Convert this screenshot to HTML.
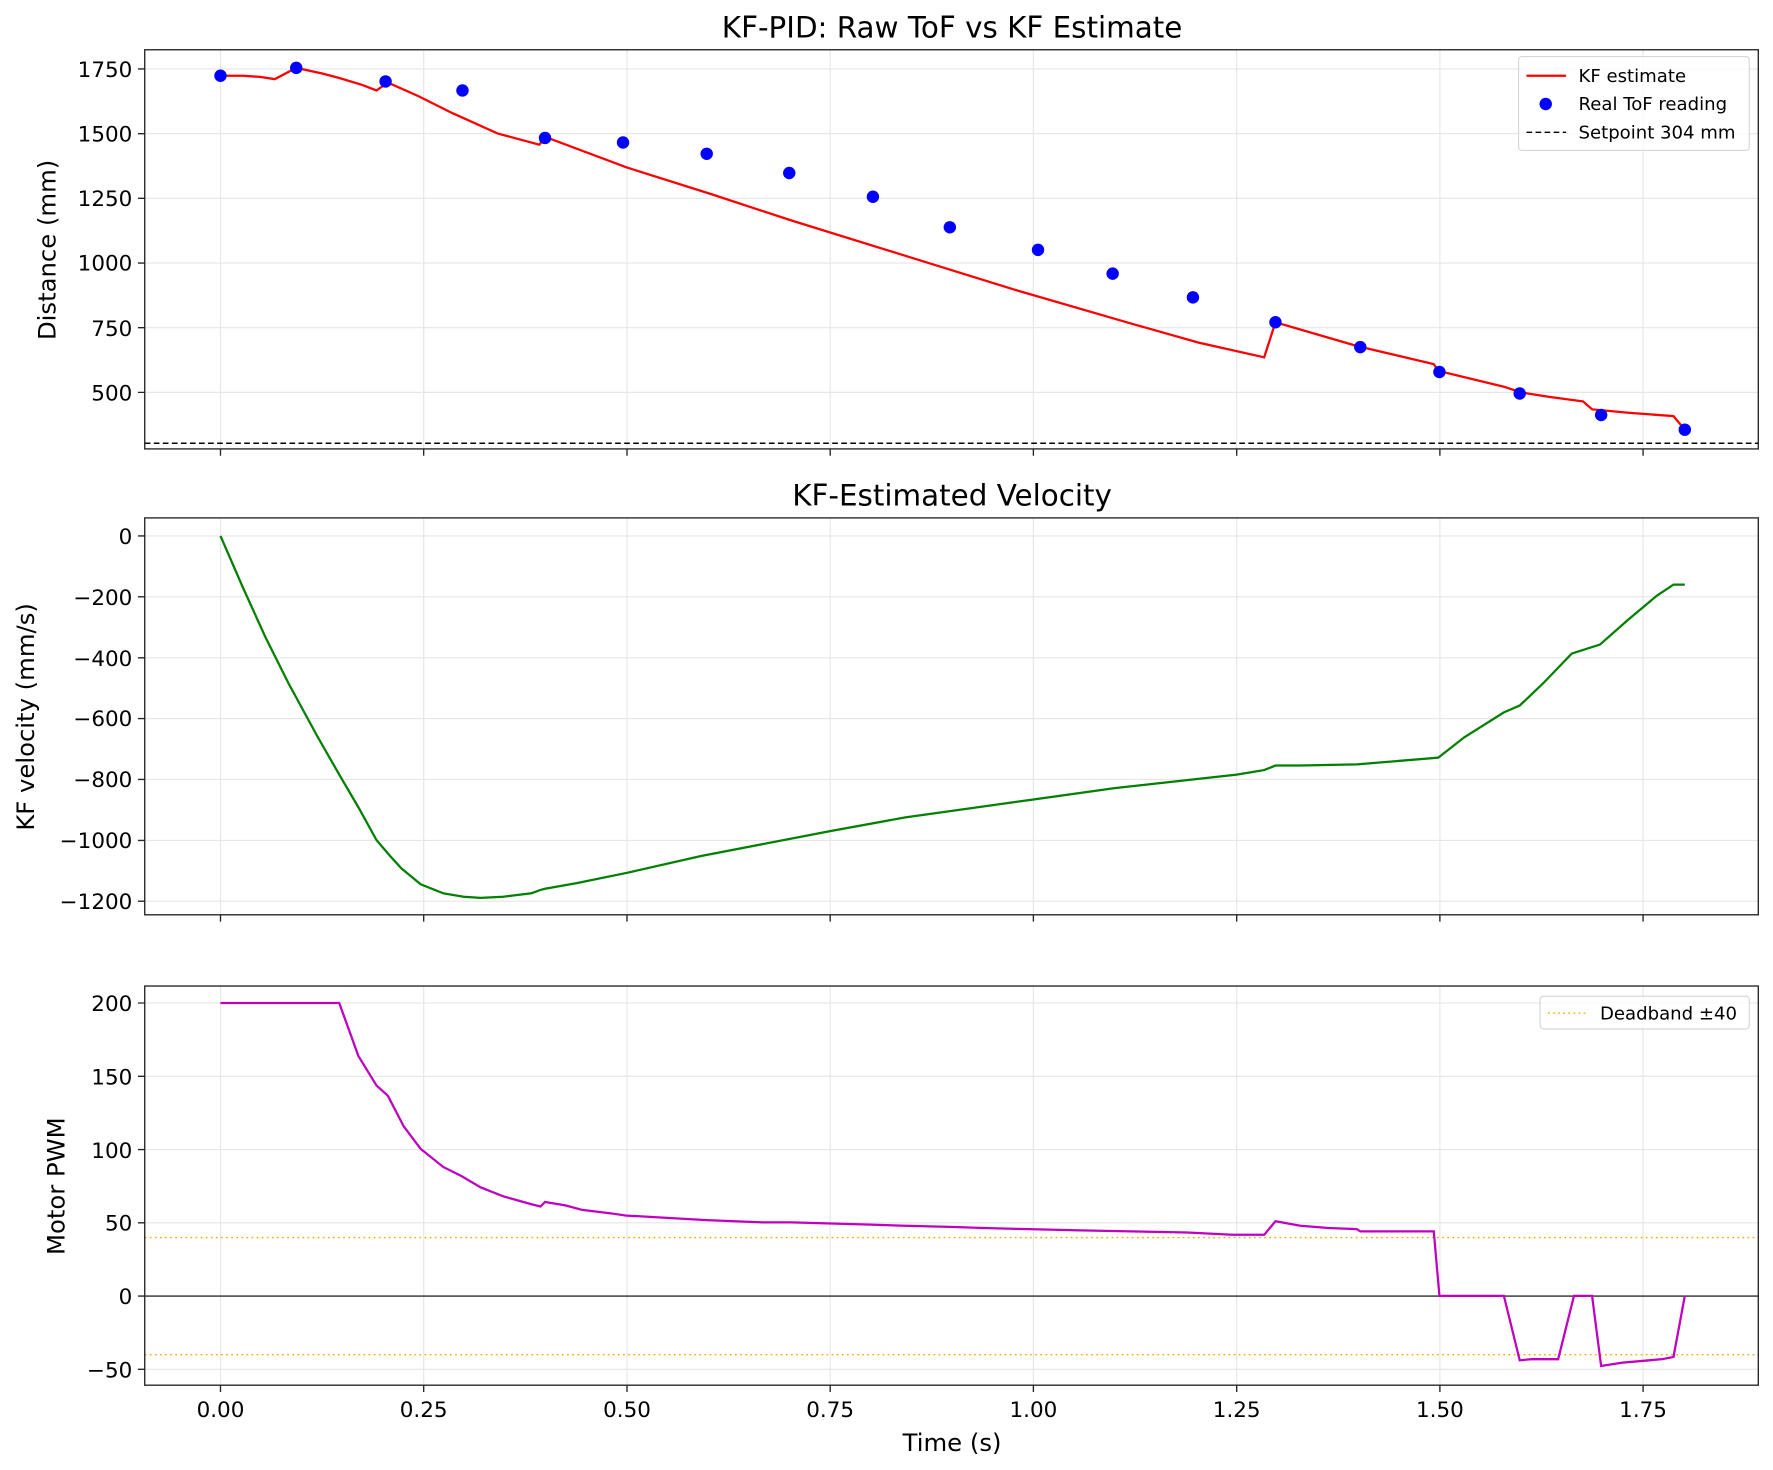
<!DOCTYPE html>
<html><head><style>html,body{margin:0;padding:0;background:#fff}svg{display:block}</style></head>
<body>
<svg width="1773" height="1470" viewBox="0 0 1568 1300" preserveAspectRatio="none" xmlns="http://www.w3.org/2000/svg" font-family="DejaVu Sans, Liberation Sans, sans-serif">
<rect width="1568" height="1300" fill="#fff"/>
<g stroke="#e6e6e6" stroke-width="1">
<path d="M195 44V397M374.7 44V397M554.5 44V397M734.2 44V397M913.9 44V397M1093.7 44V397M1273.4 44V397M1453.1 44V397"/>
<path d="M195 458V809M374.7 458V809M554.5 458V809M734.2 458V809M913.9 458V809M1093.7 458V809M1273.4 458V809M1453.1 458V809"/>
<path d="M195 872V1225M374.7 872V1225M554.5 872V1225M734.2 872V1225M913.9 872V1225M1093.7 872V1225M1273.4 872V1225M1453.1 872V1225"/>
<path d="M128 61H1555M128 118.2H1555M128 175.4H1555M128 232.6H1555M128 289.8H1555M128 347H1555"/>
<path d="M128 474H1555M128 527.8H1555M128 581.7H1555M128 635.5H1555M128 689.3H1555M128 743.2H1555M128 797H1555"/>
<path d="M128 887H1555M128 951.8H1555M128 1016.6H1555M128 1081.4H1555M128 1146.2H1555M128 1211H1555"/>
</g>
<line x1="128" y1="392" x2="1555" y2="392" stroke="#000" stroke-width="1.3" stroke-dasharray="5,3"/>
<polyline fill="none" stroke="#f00" stroke-width="2" points="195,67 215,67 230,68 243,70 262,60 285,65 300,69 320,75 333,80 343,73 370,85 400,100 440,118 477,128 482,121 554,148 630,172 700,195 800,226 900,257 1000,286 1060,303 1118,316 1128,285 1200,306 1268,322 1272,328 1330,342 1345,347 1370,351 1400,355 1408,362 1440,365 1480,368 1490,380"/>
<g fill="#00f">
<circle cx="195" cy="67" r="5.5"/><circle cx="262" cy="60" r="5.5"/><circle cx="341" cy="72" r="5.5"/><circle cx="409" cy="80" r="5.5"/><circle cx="482" cy="122" r="5.5"/><circle cx="551" cy="126" r="5.5"/><circle cx="625" cy="136" r="5.5"/><circle cx="698" cy="153" r="5.5"/><circle cx="772" cy="174" r="5.5"/><circle cx="840" cy="201" r="5.5"/><circle cx="918" cy="221" r="5.5"/><circle cx="984" cy="242" r="5.5"/><circle cx="1055" cy="263" r="5.5"/><circle cx="1128" cy="285" r="5.5"/><circle cx="1203" cy="307" r="5.5"/><circle cx="1273" cy="329" r="5.5"/><circle cx="1344" cy="348" r="5.5"/><circle cx="1416" cy="367" r="5.5"/><circle cx="1490" cy="380" r="5.5"/>
</g>
<rect x="128" y="44" width="1427" height="353" fill="none" stroke="#262626" stroke-width="1.2"/>
<rect x="1343" y="50" width="204" height="83" rx="3" fill="#fff" fill-opacity="0.8" stroke="#d6d6d6"/>
<line x1="1350" y1="67" x2="1385" y2="67" stroke="#f00" stroke-width="2"/>
<circle cx="1367" cy="92" r="5.5" fill="#00f"/>
<line x1="1350" y1="117" x2="1385" y2="117" stroke="#000" stroke-width="1.3" stroke-dasharray="5,3"/>
<g font-size="16" fill="#000"><text x="1396" y="72.5">KF estimate</text><text x="1396" y="97.5">Real ToF reading</text><text x="1396" y="122.5">Setpoint 304 mm</text></g>
<polyline fill="none" stroke="#008000" stroke-width="2" points="195,474 215,520 235,564 255,604 280,650 300,685 317,714 333,743 345,757 355,768 372,782 392,790 410,793 425,794 445,793 470,790 478,787 482,786 510,781 554,772 620,757 734.2,735 800,723 913.9,707 985.8,697 1093.7,685 1118,681 1128,677 1150,677 1200,676 1272,670 1295,652 1330,630 1344,624 1365,604 1390,578 1415,570 1440,548 1465,527 1480,517 1490,517"/>
<rect x="128" y="458" width="1427" height="351" fill="none" stroke="#262626" stroke-width="1.2"/>
<line x1="128" y1="1146.2" x2="1555" y2="1146.2" stroke="#000" stroke-width="1"/>
<g stroke="#ffa500" stroke-width="1.2" stroke-dasharray="1.5,3"><line x1="128" y1="1094.4" x2="1555" y2="1094.4"/><line x1="128" y1="1198" x2="1555" y2="1198"/></g>
<polyline fill="none" stroke="#c000c0" stroke-width="2" points="195,887 300,887 317,934 333,960 343,969 357,996 372,1016 392,1032 408,1040 425,1050 445,1058 470,1065 478,1067 482,1063 500,1066 515,1070 540,1073 554,1075 590,1077 625,1079 675,1081 700,1081 735,1082 770,1083 800,1084 840,1085 870,1086 910,1087 950,1088 1000,1089 1050,1090 1090,1092 1118,1092 1128,1080 1150,1084 1175,1086 1200,1087 1203,1089 1240,1089 1268,1089 1273,1146 1330,1146 1344,1203 1355,1202 1378,1202 1392,1146 1408,1146 1416,1208 1435,1205 1470,1202 1480,1200 1490,1146"/>
<rect x="128" y="872" width="1427" height="353" fill="none" stroke="#262626" stroke-width="1.2"/>
<rect x="1362" y="881" width="185" height="29" rx="3" fill="#fff" fill-opacity="0.8" stroke="#d6d6d6"/>
<line x1="1369" y1="896" x2="1404" y2="896" stroke="#ffa500" stroke-width="1.2" stroke-dasharray="1.5,3"/>
<text x="1415" y="901.5" font-size="16">Deadband ±40</text>
<g stroke="#262626" stroke-width="1.2">
<path d="M195 397v6M374.7 397v6M554.5 397v6M734.2 397v6M913.9 397v6M1093.7 397v6M1273.4 397v6M1453.1 397v6"/>
<path d="M195 809v6M374.7 809v6M554.5 809v6M734.2 809v6M913.9 809v6M1093.7 809v6M1273.4 809v6M1453.1 809v6"/>
<path d="M195 1225v6M374.7 1225v6M554.5 1225v6M734.2 1225v6M913.9 1225v6M1093.7 1225v6M1273.4 1225v6M1453.1 1225v6"/>
<path d="M128 61h-6M128 118.2h-6M128 175.4h-6M128 232.6h-6M128 289.8h-6M128 347h-6"/>
<path d="M128 474h-6M128 527.8h-6M128 581.7h-6M128 635.5h-6M128 689.3h-6M128 743.2h-6M128 797h-6"/>
<path d="M128 887h-6M128 951.8h-6M128 1016.6h-6M128 1081.4h-6M128 1146.2h-6M128 1211h-6"/>
</g>
<g font-size="19" fill="#000" text-anchor="end">
<text x="117" y="68">1750</text><text x="117" y="125">1500</text><text x="117" y="182">1250</text><text x="117" y="239">1000</text><text x="117" y="297">750</text><text x="117" y="354">500</text>
<text x="117" y="481">0</text><text x="117" y="535">−200</text><text x="117" y="589">−400</text><text x="117" y="642">−600</text><text x="117" y="696">−800</text><text x="117" y="750">−1000</text><text x="117" y="804">−1200</text>
<text x="117" y="894">200</text><text x="117" y="959">150</text><text x="117" y="1024">100</text><text x="117" y="1088">50</text><text x="117" y="1153">0</text><text x="117" y="1218">−50</text>
</g>
<g font-size="19" fill="#000" text-anchor="middle">
<text x="195" y="1253">0.00</text><text x="374.7" y="1253">0.25</text><text x="554.5" y="1253">0.50</text><text x="734.2" y="1253">0.75</text><text x="913.9" y="1253">1.00</text><text x="1093.7" y="1253">1.25</text><text x="1273.4" y="1253">1.50</text><text x="1453.1" y="1253">1.75</text>
<text x="842" y="1283" font-size="21.5">Time (s)</text>
<text x="842" y="33" font-size="26">KF-PID: Raw ToF vs KF Estimate</text>
<text x="842" y="447" font-size="26">KF-Estimated Velocity</text>
<text transform="translate(49,221) rotate(-90)" font-size="21.5">Distance (mm)</text>
<text transform="translate(30,634) rotate(-90)" font-size="21.5">KF velocity (mm/s)</text>
<text transform="translate(57,1049) rotate(-90)" font-size="21.5">Motor PWM</text>
</g>
</svg>
</body></html>
